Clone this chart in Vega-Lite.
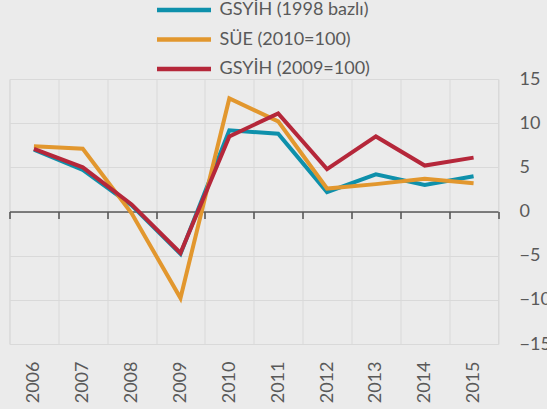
{
  "$schema": "https://vega.github.io/schema/vega-lite/v6.json",
  "width": 488.5,
  "height": 265,
  "autosize": {"type": "none"},
  "padding": {"left": 9.5, "top": 79, "right": 49, "bottom": 65},
  "background": "#EBEBEB",
  "config": {
    "view": {"stroke": "#D9D9D9", "fill": "#EBEBEB"},
    "font": "Lato",
    "axis": {"labelFont": "Lato", "labelFontSize": 18, "labelColor": "#595959"},
    "legend": {"labelFont": "Lato", "labelFontSize": 18, "labelColor": "#595959"}
  },
  "data": {
    "values": [
      {"year": "2006", "series": "GSYİH (1998 bazlı)", "value": 7.0},
      {"year": "2007", "series": "GSYİH (1998 bazlı)", "value": 4.7},
      {"year": "2008", "series": "GSYİH (1998 bazlı)", "value": 0.7},
      {"year": "2009", "series": "GSYİH (1998 bazlı)", "value": -4.8},
      {"year": "2010", "series": "GSYİH (1998 bazlı)", "value": 9.2},
      {"year": "2011", "series": "GSYİH (1998 bazlı)", "value": 8.8},
      {"year": "2012", "series": "GSYİH (1998 bazlı)", "value": 2.2},
      {"year": "2013", "series": "GSYİH (1998 bazlı)", "value": 4.2},
      {"year": "2014", "series": "GSYİH (1998 bazlı)", "value": 3.0},
      {"year": "2015", "series": "GSYİH (1998 bazlı)", "value": 4.0},
      {"year": "2006", "series": "SÜE (2010=100)", "value": 7.4},
      {"year": "2007", "series": "SÜE (2010=100)", "value": 7.1},
      {"year": "2008", "series": "SÜE (2010=100)", "value": -0.2},
      {"year": "2009", "series": "SÜE (2010=100)", "value": -9.8},
      {"year": "2010", "series": "SÜE (2010=100)", "value": 12.8},
      {"year": "2011", "series": "SÜE (2010=100)", "value": 10.2},
      {"year": "2012", "series": "SÜE (2010=100)", "value": 2.6},
      {"year": "2013", "series": "SÜE (2010=100)", "value": 3.1},
      {"year": "2014", "series": "SÜE (2010=100)", "value": 3.7},
      {"year": "2015", "series": "SÜE (2010=100)", "value": 3.2},
      {"year": "2006", "series": "GSYİH (2009=100)", "value": 7.1},
      {"year": "2007", "series": "GSYİH (2009=100)", "value": 5.0},
      {"year": "2008", "series": "GSYİH (2009=100)", "value": 0.8},
      {"year": "2009", "series": "GSYİH (2009=100)", "value": -4.7},
      {"year": "2010", "series": "GSYİH (2009=100)", "value": 8.5},
      {"year": "2011", "series": "GSYİH (2009=100)", "value": 11.1},
      {"year": "2012", "series": "GSYİH (2009=100)", "value": 4.8},
      {"year": "2013", "series": "GSYİH (2009=100)", "value": 8.5},
      {"year": "2014", "series": "GSYİH (2009=100)", "value": 5.2},
      {"year": "2015", "series": "GSYİH (2009=100)", "value": 6.1}
    ]
  },
  "layer": [
    {
      "mark": {"type": "line", "strokeWidth": 4},
      "encoding": {
        "x": {
          "field": "year", "type": "ordinal", "bandPosition": 0.5,
          "scale": {"type": "band", "paddingInner": 0, "paddingOuter": 0},
          "axis": {
            "orient": "bottom", "title": null, "labelAngle": -90, "labelAlign": "right", "labelBaseline": "middle",
            "labelPadding": 17, "ticks": false, "domain": false, "grid": true, "gridColor": "#D9D9D9",
            "tickBand": "extent"
          }
        },
        "y": {
          "field": "value", "type": "quantitative",
          "scale": {"domain": [-15, 15], "nice": false},
          "axis": {
            "orient": "right", "title": null, "values": [-15, -10, -5, 0, 5, 10, 15],
            "grid": true, "gridColor": "#D9D9D9", "domain": false, "ticks": false,
            "labelPadding": 21, "labelAlign": "left"
          }
        },
        "color": {
          "field": "series", "type": "nominal",
          "scale": {
            "domain": ["GSYİH (1998 bazlı)", "SÜE (2010=100)", "GSYİH (2009=100)"],
            "range": ["#0E90AB", "#E2972E", "#B5273A"]
          },
          "legend": {
            "title": null, "orient": "none", "legendX": 162, "legendY": -81.5,
            "direction": "vertical", "symbolType": "M-2.7,0H2.7", "symbolSize": 400,
            "symbolStrokeWidth": 4.5, "rowPadding": 7.5, "padding": 0, "labelOffset": 23
          }
        }
      }
    },
    {
      "mark": {"type": "rule", "opacity": 0},
      "encoding": {
        "x": {
          "field": "year", "type": "ordinal",
          "axis": {
            "orient": "bottom", "offset": -132.5, "title": null, "labels": false, "grid": false,
            "domain": true, "domainColor": "#595959", "domainWidth": 1.6,
            "ticks": true, "tickSize": 7, "tickColor": "#595959", "tickWidth": 1.6, "tickBand": "extent"
          }
        },
        "y": {"datum": 0},
        "y2": {"datum": 0}
      }
    }
  ],
  "resolve": {"axis": {"x": "independent"}}
}
